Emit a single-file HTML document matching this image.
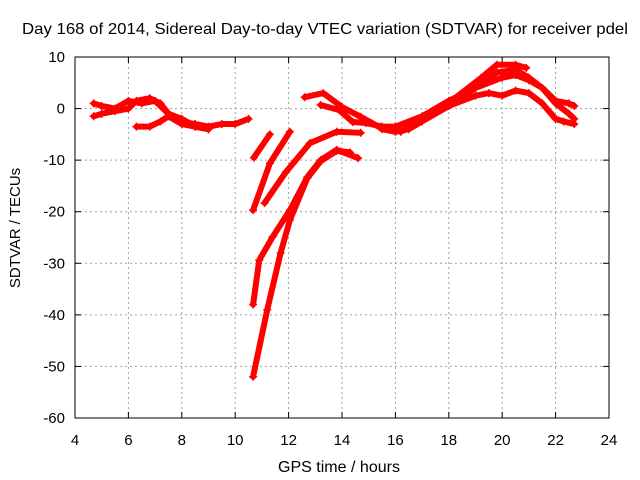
<!DOCTYPE html>
<html><head><meta charset="utf-8"><style>
body{margin:0;background:#fff}
svg{display:block;font-family:"Liberation Sans",sans-serif}
</style></head><body>
<svg id="chart" width="640" height="480" viewBox="0 0 640 480">
<rect width="640" height="480" fill="#fff"/>
<text x="325" y="34" font-size="16" text-anchor="middle" textLength="606" lengthAdjust="spacingAndGlyphs">Day 168 of 2014, Sidereal Day-to-day VTEC variation (SDTVAR) for receiver pdel</text>
<text x="339" y="472" font-size="16" text-anchor="middle" textLength="122" lengthAdjust="spacingAndGlyphs">GPS time / hours</text>
<text transform="translate(20,228) rotate(-90)" font-size="15" text-anchor="middle">SDTVAR / TECUs</text>
<g id="grid"></g>
<g id="ticks"></g>
<g id="series"></g>
<rect x="75" y="57" width="534" height="361" fill="none" stroke="#000"/>
</svg>
<script>
const xTicks=[4,6,8,10,12,14,16,18,20,22,24];
const yTicks=[10,0,-10,-20,-30,-40,-50,-60];
const sA_h=[4.7,5,5.5,6,6.5,7,7.5,8,8.5,9,9.5,10,10.5];
const sA_v=[1,0.5,0,1.5,1,1.5,-1,-2.5,-3,-3.5,-3,-3,-2];
const sB_h=[4.7,5,5.5,6,6.3,6.8,7.2,7.5,8,8.5,9];
const sB_v=[-1.5,-1,-0.5,0,1.5,2,1,-1,-2,-3.5,-4];
const sC_h=[6.3,6.8,7.2,7.5,8,8.5,9];
const sC_v=[-3.5,-3.5,-2.5,-1.5,-3,-3.5,-4];
const sD_h=[10.7,11.3];
const sD_v=[-9.5,-5];
const sE_h=[10.67,11.3,12.05];
const sE_v=[-19.7,-10.6,-4.5];
const sF_h=[11.1,11.9,12.8,13.8,14.7];
const sF_v=[-18.3,-12.3,-6.7,-4.5,-4.7];
const sG_h=[10.67,10.9,11.4,12.05,12.7,13.2,13.8,14.6];
const sG_v=[-38,-29.4,-24.9,-19.7,-13.3,-10,-8,-9.6];
const sH_h=[10.67,11.2,11.7,12.05,12.7,13.2,13.8,14.3];
const sH_v=[-52,-39,-28,-21.6,-13.5,-10.2,-8.2,-8.5];
const sI_h=[12.6,13.3,14,14.7,15.4,16.2,17.2,18.05,19.2,19.8,20.5,20.9];
const sI_v=[2.2,3,0.3,-1.6,-3.6,-4.5,-1.6,1.3,5.9,8.5,8.5,7.9];
const sJ_h=[13.2,13.9,14.4,14.9,15.5,16,17,18,19,20,20.5,21,21.5,22,22.5,22.7];
const sJ_v=[0.7,-0.3,-2.6,-2.8,-3.5,-3.5,-1.5,1.5,4,6,6.5,5.5,4,1.5,1,0.5];
const sK_h=[18,19,19.5,20,20.5,21,21.5,22,22.3,22.7];
const sK_v=[0.5,2.5,3,2.5,3.5,3,1,-2,-2.5,-3];
const sL_h=[15.5,16,16.5,17,18,19,19.8,20.5,21,21.5,22,22.5,22.7];
const sL_v=[-4,-4.5,-4,-2.5,0.5,4,7,7.5,6,4,1,-1,-2];
const allSeries=[[sA_h,sA_v],[sB_h,sB_v],[sC_h,sC_v],[sD_h,sD_v],[sE_h,sE_v],[sF_h,sF_v],[sG_h,sG_v],[sH_h,sH_v],[sI_h,sI_v],[sJ_h,sJ_v],[sK_h,sK_v],[sL_h,sL_v]];
const X=h=>75+(h-4)*(534/20);
const Y=v=>57+(10-v)*(361/70);
const NS="http://www.w3.org/2000/svg";
const grid=document.getElementById('grid'),ticks=document.getElementById('ticks'),ser=document.getElementById('series');
function mk(tag,attrs,parent){const e=document.createElementNS(NS,tag);for(const k in attrs)e.setAttribute(k,attrs[k]);parent.appendChild(e);return e;}
xTicks.forEach(t=>{
 const x=X(t);
 if(t>4&&t<24){const g=mk('line',{x1:x,y1:57,x2:x,y2:418,stroke:'#a0a0a0','stroke-dasharray':'2,3'},grid);
 
 }
 mk('line',{x1:x,y1:418,x2:x,y2:412,stroke:'#000'},ticks);
 mk('line',{x1:x,y1:57,x2:x,y2:63,stroke:'#000'},ticks);
 const l=mk('text',{x:x,y:445,'font-size':15,'text-anchor':'middle'},ticks);l.textContent=t;
 
 
});
yTicks.forEach(t=>{
 const y=Y(t);
 if(t<10&&t>-60){const g=mk('line',{x1:75,y1:y,x2:609,y2:y,stroke:'#a0a0a0','stroke-dasharray':'2,3'},grid);
 
 }
 mk('line',{x1:75,y1:y,x2:81,y2:y,stroke:'#000'},ticks);
 mk('line',{x1:609,y1:y,x2:603,y2:y,stroke:'#000'},ticks);
 const l=mk('text',{x:65,y:y+5,'font-size':15,'text-anchor':'end'},ticks);l.textContent=t;
 
 
});
allSeries.forEach(([hs,vs])=>{
 const pts=hs.map((h,i)=>X(h)+','+Y(vs[i])).join(' ');
 const pl=mk('polyline',{points:pts,fill:'none',stroke:'#f00','stroke-width':6,'stroke-linejoin':'round','stroke-linecap':'round'},ser);
 
 
 hs.forEach((h,i)=>{const x=X(h),y=Y(vs[i]);
  const p=mk('path',{d:`M${x-4},${y}H${x+4}M${x},${y-4}V${y+4}`,stroke:'#f00','stroke-width':1.5},ser);
  
  
 });
});
</script>
</body></html>
